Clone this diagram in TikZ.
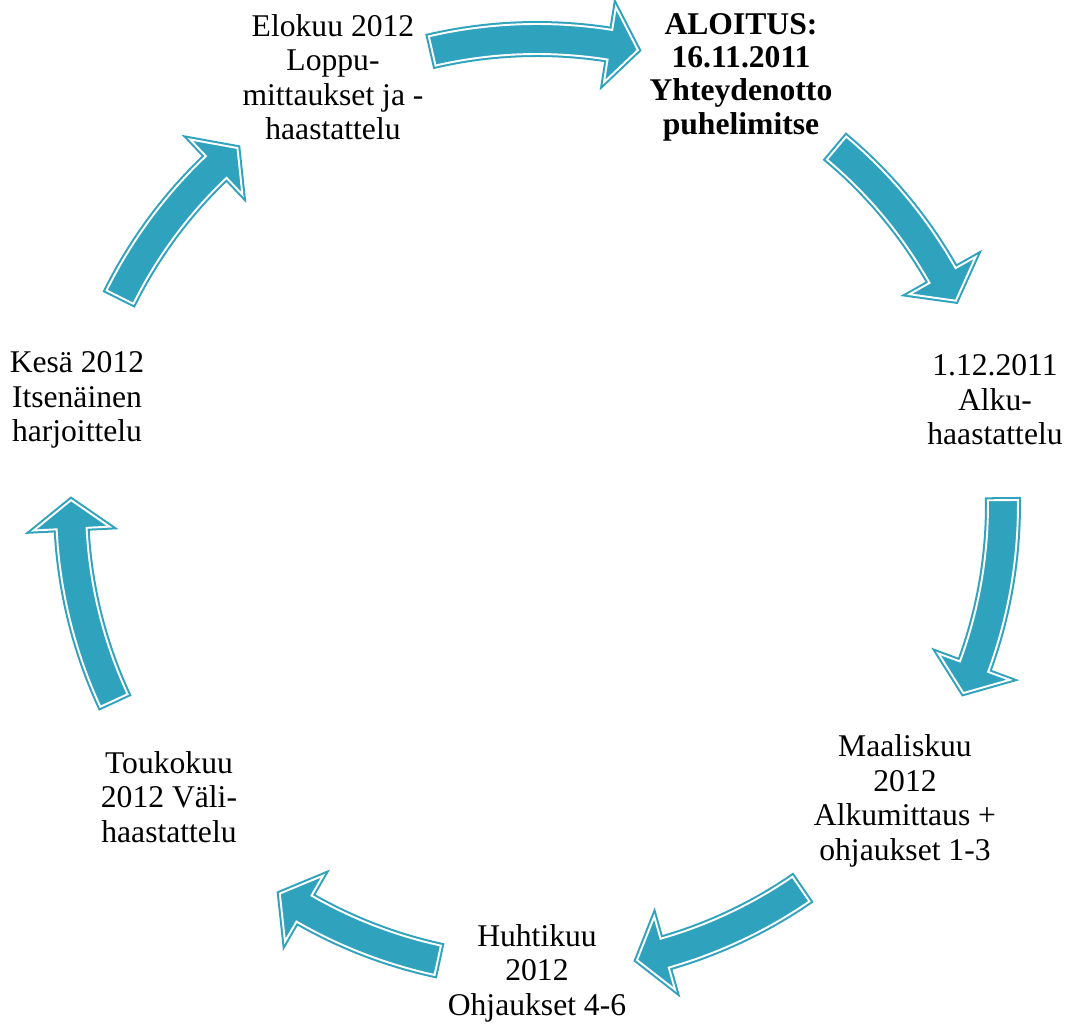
\documentclass[tikz,border=0pt]{standalone}
\usepackage{fontspec}
\setmainfont{Liberation Serif}
\definecolor{turkoosi}{RGB}{47,162,190}
\tikzset{
  vaihe/.style={align=center, font=\fontsize{18}{19.6}\selectfont},
  nuoli/.style={fill=turkoosi, draw=turkoosi, line width=3.4pt,
    postaction={draw=white, line width=1.1pt}}
}
\begin{document}
\begin{tikzpicture}[x=0.02cm, y=0.02cm, line join=miter]
  \def\R{466} \def\w{15} \def\h{38} \def\p{3.5} % sade, varsi, karki
  \useasboundingbox (-537,505) rectangle (535,-520);
  % nuolet ympyralla: hanta / karki
  \foreach \a/\b in {103/77.5, 50/26, 0.6/-23.8, -55.5/-77.6,
                     -102.3/-123.5, -155.2/-180.6, 153.5/130}{
    \pgfmathsetmacro\kanta{\b+\p}
    \path[nuoli] (\a:{\R+\w})
      arc[start angle=\a, end angle=\kanta, radius={\R+\w}]
      -- (\kanta:{\R+\h}) -- (\b:\R) -- (\kanta:{\R-\h})
      -- (\kanta:{\R-\w})
      arc[start angle=\kanta, end angle=\a, radius={\R-\w}] -- cycle;
  }
  \node[vaihe, font=\fontsize{18}{19}\selectfont\bfseries] (aloitus) at (204,428)
    {ALOITUS:\\16.11.2011\\Yhteydenotto\\puhelimitse};
  \node[vaihe] (alku) at (458,105) {1.12.2011\\Alku-\\haastattelu};
  \node[vaihe] (maalis) at (368,-296) {Maaliskuu\\2012\\Alkumittaus +\\ohjaukset 1-3};
  \node[vaihe] (huhti) at (0,-468) {Huhtikuu\\2012\\Ohjaukset 4-6};
  \node[vaihe] (touko) at (-368,-292) {Toukokuu\\2012 Väli-\\haastattelu};
  \node[vaihe] (kesa) at (-460,105) {Kesä 2012\\Itsenäinen\\harjoittelu};
  \node[vaihe] (elo) at (-204,428) {Elokuu 2012\\Loppu-\\mittaukset ja -\\haastattelu};
\end{tikzpicture}
\end{document}
